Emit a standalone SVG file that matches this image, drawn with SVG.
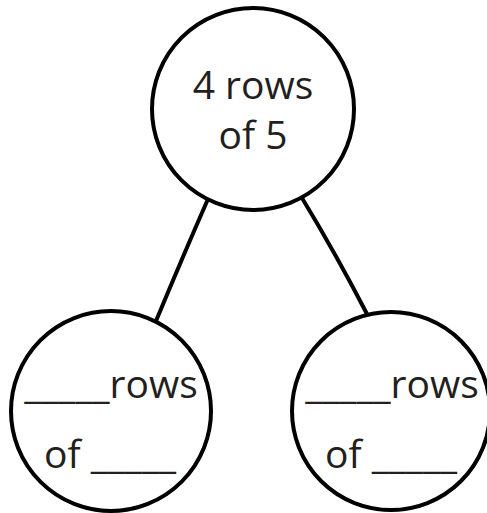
<svg xmlns="http://www.w3.org/2000/svg" width="487" height="513" viewBox="0 0 487 513">
<style>
.node{fill:#fff;stroke:#000;stroke-width:4}
.edge{fill:none;stroke:#000;stroke-width:4}
.t{font-family:"Open Sans","Noto Sans",sans-serif;font-size:39px;fill:#231f20;text-anchor:middle}
</style>
<rect width="487" height="513" fill="#fff"/>
<g id="connectors">
<path class="edge" d="M208,199 Q183,256 156,321"/>
<path class="edge" d="M302,198 Q336,254 367,314"/>
</g>
<g id="top">
<circle class="node" cx="253" cy="109" r="101"/>
<text class="t" x="253" y="99">4 rows</text>
<text class="t" x="253" y="149">of 5</text>
</g>
<g id="left">
<circle class="node" cx="111" cy="411" r="100"/>
<text class="t" x="111" y="398">_____rows</text>
<text class="t" x="110" y="468">of _____</text>
</g>
<g id="right">
<circle class="node" cx="391" cy="411" r="99"/>
<text class="t" x="392" y="398">_____rows</text>
<text class="t" x="391" y="468">of _____</text>
</g>
</svg>
